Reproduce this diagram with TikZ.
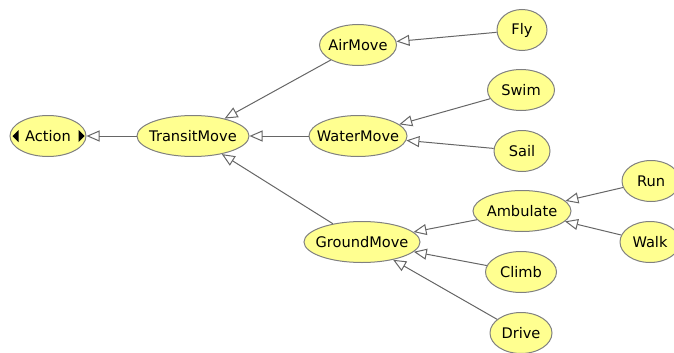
\documentclass[tikz,border=0pt]{standalone}
\usepackage{fontspec}
\setmainfont{DejaVu Sans}
\usetikzlibrary{shapes.geometric,arrows.meta}
\definecolor{clsfill}{HTML}{FFFF90}
\definecolor{clsline}{HTML}{808080}
\definecolor{edgeline}{HTML}{666666}
\begin{document}
\begin{tikzpicture}[
      x=1pt, y=-1pt,
      cls/.style={ellipse, draw=clsline, fill=clsfill, line width=1pt,
                  inner sep=0pt, minimum height=41pt, text=black,
                  font=\fontsize{14.6}{16}\selectfont,
                  execute at begin node={\hbox to 0pt\bgroup\hss},
                  execute at end node={\hss\egroup}},
      isa/.style={draw=edgeline, line width=1pt,
                  -{Triangle[open,length=13pt,width=11pt,line width=1pt]}}
    ]
      \useasboundingbox (0,0) rectangle (674,353);
      \node[cls,minimum width=76pt]  (act)    at (48,136)  {Action};
      \node[cls,minimum width=112pt] (transit) at (193,136) {TransitMove};
      \node[cls,minimum width=77pt]  (air)    at (358,45)  {AirMove};
      \node[cls,minimum width=98pt]  (water)  at (358,136) {WaterMove};
      \node[cls,minimum width=116pt] (ground) at (362,242) {GroundMove};
      \node[cls,minimum width=50pt]  (fly)    at (522,30)  {Fly};
      \node[cls,minimum width=67pt]  (swim)   at (521,90)  {Swim};
      \node[cls,minimum width=56pt]  (sail)   at (522,151) {Sail};
      \node[cls,minimum width=98pt]  (amb)    at (522,211) {Ambulate};
      \node[cls,minimum width=71pt]  (climb)  at (521,272) {Climb};
      \node[cls,minimum width=62pt]  (drive)  at (521,333) {Drive};
      \node[cls,minimum width=58pt]  (run)    at (651,181) {Run};
      \node[cls,minimum width=60pt]  (walk)   at (650,242) {Walk};
      \fill (act.west) ++(3,0) -- ++(6,-6) -- ++(0,12) -- cycle;
      \fill (act.east) ++(-2,0) -- ++(-6,-6) -- ++(0,12) -- cycle;
      \foreach \child/\parent in {transit/act, air/transit, water/transit, ground/transit,
                                  fly/air, swim/water, sail/water,
                                  amb/ground, climb/ground, drive/ground,
                                  run/amb, walk/amb} {
        \draw[isa] (\child) -- (\parent);
      }
    \end{tikzpicture}
\end{document}
